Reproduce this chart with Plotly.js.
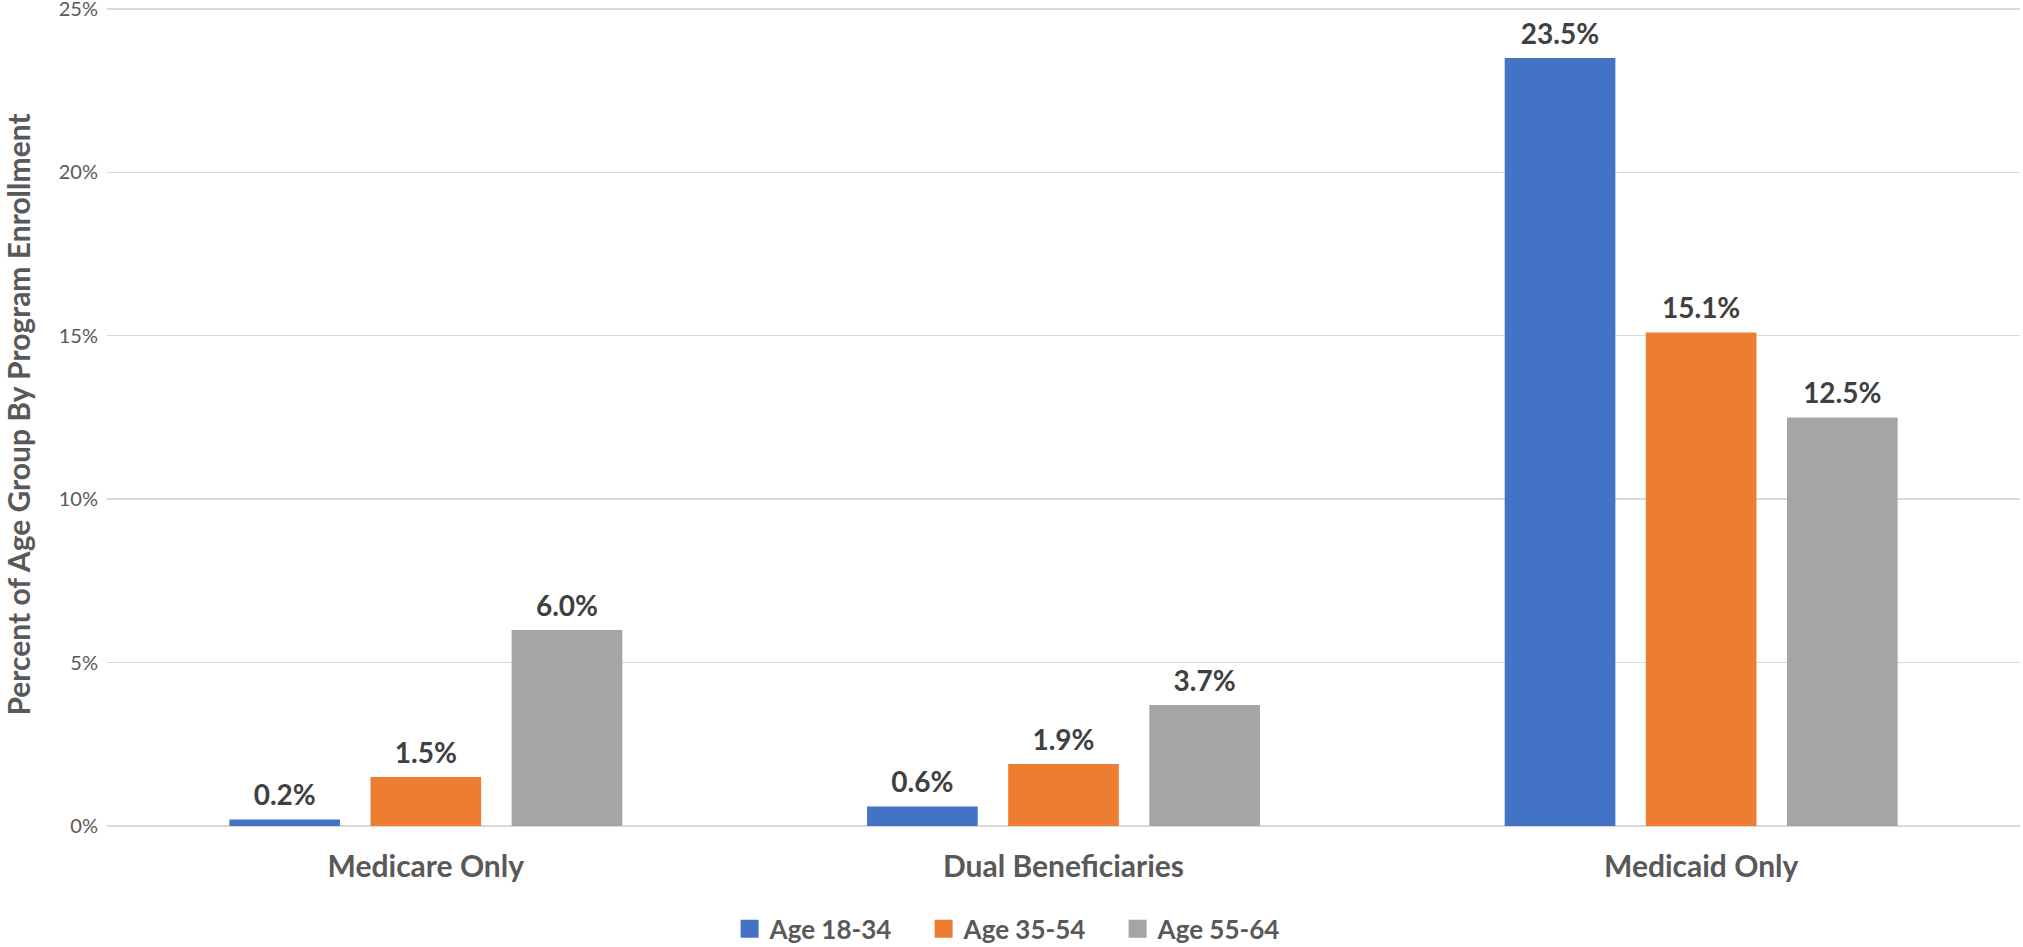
<!DOCTYPE html>
<html>
<head>
<meta charset="utf-8">
<script src="https://cdn.plot.ly/plotly-3.0.1.min.js"></script>
<style>
html,body{margin:0;padding:0;background:#fff;}
#chart{width:2023px;height:947px;}
</style>
</head>
<body>
<div id="chart"></div>
<script>
const categories = ["Medicare Only", "Dual Beneficiaries", "Medicaid Only"];
const seriesNames = ["Age 18-34", "Age 35-54", "Age 55-64"];
const age18to34 = [0.2, 0.6, 23.5];
const age35to54 = [1.5, 1.9, 15.1];
const age55to64 = [6.0, 3.7, 12.5];
const yTickVals = [0, 5, 10, 15, 20, 25];
const yTickText = ["0%", "5%", "10%", "15%", "20%", "25%"];
const colors = ["#4472C4", "#ED7D31", "#A5A5A5"];

const FONT = "Lato, 'Open Sans', 'DejaVu Sans', sans-serif";
const seriesValues = [age18to34, age35to54, age55to64];

const barTraces = seriesValues.map((vals, i) => ({
  type: "bar",
  name: seriesNames[i],
  x: categories,
  y: vals,
  offsetgroup: "g" + i,
  marker: {color: colors[i]},
  hoverinfo: "skip"
}));

const labelTraces = seriesValues.map((vals, i) => ({
  type: "scatter",
  mode: "markers+text",
  x: categories,
  y: vals,
  offsetgroup: "g" + i,
  showlegend: false,
  marker: {size: 10, opacity: 0},
  text: vals.map(v => v.toFixed(1) + "%"),
  textposition: "top center",
  textfont: {family: FONT, size: 28, color: "#404040", weight: "bold"},
  cliponaxis: false,
  hoverinfo: "skip"
}));

const layout = {
  width: 2023,
  height: 947,
  margin: {l: 107, r: 3, t: 3, b: 121, autoexpand: false},
  paper_bgcolor: "#ffffff",
  plot_bgcolor: "#ffffff",
  font: {family: FONT, color: "#595959"},
  barmode: "group",
  scattermode: "group",
  bargap: 0.336,
  bargroupgap: 0.216,
  scattergap: 0.336,
  showlegend: true,
  legend: {
    orientation: "h",
    xref: "container",
    x: 0.5045, xanchor: "center",
    y: -0.125, yanchor: "middle",
    font: {family: FONT, size: 26, color: "#595959", weight: "bold"},
    traceorder: "normal",
    entrywidth: 149
  },
  xaxis: {
    type: "category",
    showgrid: false,
    showline: false,
    zeroline: false,
    ticks: "",
    tickfont: {family: FONT, size: 30, color: "#595959", weight: "bold"},
    ticklabelstandoff: 20
  },
  yaxis: {
    range: [0, 25.18],
    tickvals: yTickVals,
    ticktext: yTickText,
    tickfont: {family: FONT, size: 20, color: "#595959"},
    ticklabelstandoff: 8,
    ticklabeloverflow: "allow",
    showgrid: true,
    gridcolor: "#D9D9D9",
    gridwidth: 1.5,
    zeroline: true,
    zerolinecolor: "#D9D9D9",
    zerolinewidth: 1.5,
    showline: false,
    ticks: "",
    title: {
      text: "Percent of Age Group By Program Enrollment",
      font: {family: FONT, size: 30, color: "#595959", weight: "bold"},
      standoff: 20
    }
  }
};

Plotly.newPlot("chart", barTraces.concat(labelTraces), layout, {displayModeBar: false, staticPlot: true}).then(gd => {
  gd.querySelectorAll(".legend .legendpoints path").forEach(p => {
    const t = p.getAttribute("transform") || "";
    p.setAttribute("transform", t + " scale(1.5)");
  });
});
</script>
</body>
</html>
